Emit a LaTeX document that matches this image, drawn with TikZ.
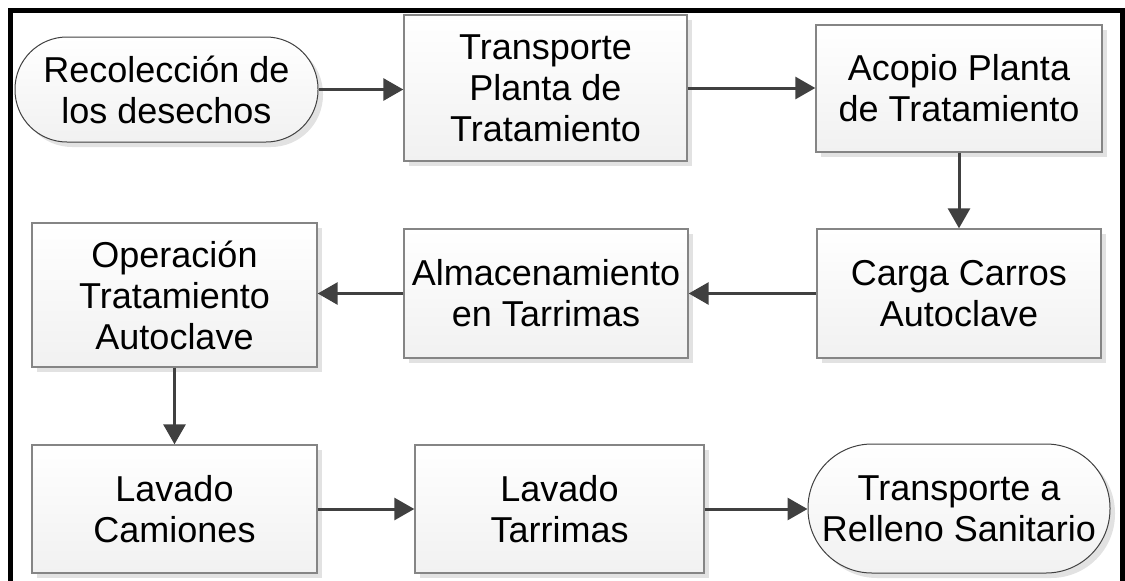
\documentclass[tikz,border=0pt]{standalone}
\usepackage{fontspec}
\setmainfont{Liberation Sans}
\usetikzlibrary{arrows.meta,shadows}
\definecolor{arrowgray}{HTML}{404040}
\definecolor{boxline}{HTML}{858585}
\definecolor{shadowgray}{HTML}{E2E2E2}
\definecolor{fillbot}{HTML}{F1F1F1}
\begin{document}
\begin{tikzpicture}[x=1pt,y=-1pt,
  every node/.style={font=\fontsize{36}{41}\selectfont, align=center, text=black},
  procbox/.style={rectangle, draw=boxline, line width=1.4pt, top color=white, bottom color=fillbot,
    inner sep=0pt, drop shadow={shadow xshift=5pt, shadow yshift=-5pt, fill=shadowgray, opacity=1}},
  termbox/.style={rectangle, rounded corners=#1, draw=arrowgray, line width=1pt, top color=white, bottom color=fillbot,
    inner sep=0pt, drop shadow={shadow xshift=5pt, shadow yshift=-5pt, fill=shadowgray, opacity=1}},
  flow/.style={draw=arrowgray, line width=3pt, -{Triangle[length=20pt,width=22pt]}, arrowgray}
]
\useasboundingbox (0,0) rectangle (1125,581);
\begin{scope}
\clip (0,0) rectangle (1125,581);
\draw[line width=4.5pt, black] (10.5,10.5) rectangle (1122.5,600);
\end{scope}

\node[termbox=52pt, minimum width=303pt, minimum height=105pt] (rec) at (166.5,89.5) {Recolección de\\los desechos};
\node[procbox, minimum width=283pt, minimum height=146pt] (tp) at (545.5,88) {Transporte\\Planta de\\Tratamiento};
\node[procbox, minimum width=286pt, minimum height=127pt] (aco) at (959,88.5) {Acopio Planta\\de Tratamiento};
\node[procbox, minimum width=284pt, minimum height=129pt] (car) at (959,293.5) {Carga Carros\\Autoclave};
\node[procbox, minimum width=284pt, minimum height=129pt] (alm) at (546,293.5) {Almacenamiento\\en Tarrimas};
\node[procbox, minimum width=285pt, minimum height=144pt] (ope) at (174.5,295) {Operación\\Tratamiento\\Autoclave};
\node[procbox, minimum width=285pt, minimum height=128pt] (lc) at (174.5,509) {Lavado\\Camiones};
\node[procbox, minimum width=289pt, minimum height=128pt] (lt) at (559.5,509) {Lavado\\Tarrimas};
\node[termbox=64pt, minimum width=302pt, minimum height=129pt] (rel) at (959,508.5) {Transporte a\\Relleno Sanitario};

\draw[flow] (rec.east) -- (rec.east -| tp.west);
\draw[flow] (tp.east) -- (tp.east -| aco.west);
\draw[flow] (aco.south) -- (car.north);
\draw[flow] (car.west) -- (car.west -| alm.east);
\draw[flow] (alm.west) -- (alm.west -| ope.east);
\draw[flow] (ope.south) -- (ope.south |- lc.north);
\draw[flow] (lc.east) -- (lc.east -| lt.west);
\draw[flow] (lt.east) -- (lt.east -| rel.west);
\end{tikzpicture}
\end{document}
